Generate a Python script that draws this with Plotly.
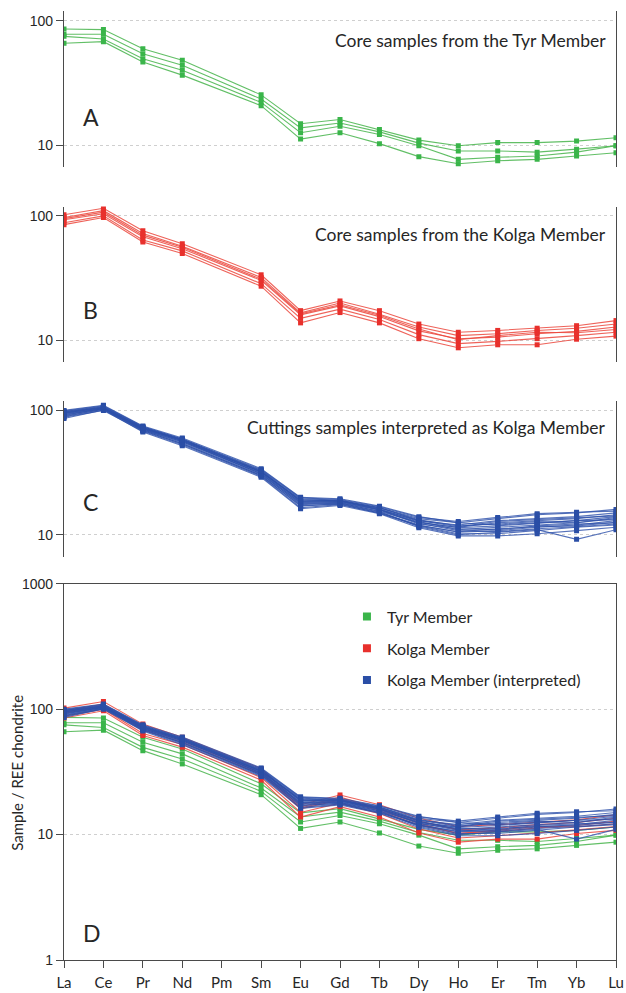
import plotly.graph_objects as go

# Rare earth elements in atomic-number order (Pm not analysed)
ELEMENTS = ["La", "Ce", "Pr", "Nd", "Pm", "Sm", "Eu", "Gd", "Tb", "Dy", "Ho", "Er", "Tm", "Yb", "Lu"]

# Chondrite-normalised REE, core samples from the Tyr Member
TYR = [
    [86, 85, 59.6, 48.2, None, 25.4, 14.9, 16.1, 13.4, 11.0, 9.9, 10.5, 10.5, 10.8, 11.5],
    [78, 78, 54.4, 44.0, None, 23.5, 13.8, 15.1, 12.8, 10.4, 9.0, 9.0, 8.8, 9.3, 9.9],
    [75, 71.5, 49.6, 40.1, None, 22.1, 12.6, 14.2, 12.2, 9.9, 7.7, 8.0, 8.2, 8.8, 9.9],
    [66, 68, 46.7, 36.6, None, 20.8, 11.2, 12.6, 10.3, 8.1, 7.1, 7.5, 7.7, 8.2, 8.7],
]

# Core samples from the Kolga Member
KOLGA = [
    [102, 115, 76, 59.7, None, 33.6, 17.3, 20.7, 17.3, 13.5, 11.6, 12.0, 12.5, 13.1, 14.4],
    [97, 110, 72, 57, None, 32.0, 16.6, 19.9, 16.2, 12.8, 10.9, 11.3, 12.0, 12.5, 13.5],
    [93, 104, 68, 54.5, None, 30.3, 16.0, 18.9, 15.5, 11.9, 10.3, 10.6, 11.3, 11.8, 12.8],
    [88, 100, 64, 52.3, None, 28.5, 15.0, 17.8, 14.7, 11.1, 9.4, 9.8, 10.3, 10.9, 11.6],
    [85, 97, 61.6, 49.8, None, 27.2, 13.8, 16.7, 13.8, 10.3, 8.7, 9.2, 9.2, 10.2, 10.8],
    [95, 107, 70, 56, None, 31.0, 16.3, 19.3, 15.9, 12.3, 10.1, 10.9, 11.6, 11.5, 12.2],
]

# Cuttings samples interpreted as Kolga Member
KOLGA_INTERP = [
    [98, 108, 74, 59, None, 33.0, 19.5, 19.0, 16.5, 13.5, 12.5, 13.5, 14.5, 15.0, 16.0],
    [95, 105, 72, 57, None, 32.0, 18.5, 18.5, 16.0, 13.0, 12.0, 13.0, 13.5, 14.0, 15.0],
    [92, 103, 70, 56, None, 31.0, 17.5, 18.0, 15.5, 12.5, 11.5, 12.5, 13.0, 13.5, 14.5],
    [100, 110, 75, 60, None, 34.0, 20.0, 19.5, 17.0, 14.0, 12.5, 12.0, 12.5, 13.0, 14.0],
    [96, 106, 73, 58, None, 32.5, 19.0, 18.8, 16.2, 12.8, 11.0, 11.5, 12.0, 12.5, 13.5],
    [90, 102, 69, 54, None, 30.0, 17.0, 17.8, 15.2, 12.0, 10.5, 10.8, 11.5, 12.0, 13.0],
    [94, 104, 71, 56, None, 31.5, 18.0, 18.2, 15.8, 12.2, 11.2, 11.0, 11.8, 12.2, 12.5],
    [88, 100, 68, 53, None, 29.5, 16.5, 17.5, 15.0, 11.8, 10.2, 10.2, 10.8, 11.5, 12.0],
    [97, 107, 72, 58, None, 32.0, 18.8, 18.6, 16.4, 13.2, 11.8, 12.2, 12.8, 12.5, 13.8],
    [93, 103, 70, 55, None, 30.5, 17.8, 18.0, 15.4, 11.6, 10.0, 10.5, 11.0, 9.2, 11.0],
    [99, 109, 74, 59, None, 33.5, 19.8, 19.2, 16.8, 13.8, 12.8, 13.8, 14.8, 15.2, 15.5],
    [86, 101, 67, 52, None, 29.0, 16.2, 17.2, 14.8, 11.4, 9.8, 9.8, 10.2, 10.8, 11.5],
    [91, 104, 71, 57, None, 31.0, 18.2, 18.4, 15.9, 12.6, 11.4, 11.8, 12.4, 13.0, 13.2],
    [95, 105, 73, 57, None, 32.0, 19.2, 18.8, 16.6, 13.0, 11.6, 12.8, 13.2, 13.8, 14.2],
    [89, 102, 69, 54, None, 30.0, 17.2, 17.6, 15.0, 11.9, 10.6, 11.2, 11.6, 11.8, 12.6],
    [97, 106, 72, 58, None, 32.8, 18.6, 18.9, 16.0, 12.4, 10.8, 10.6, 11.2, 11.6, 12.2],
]

GROUPS = [
    ("Tyr Member", TYR, "rgba(70,180,75,0.85)", "#3ab54a"),
    ("Kolga Member", KOLGA, "rgba(235,70,60,0.85)", "#e8302c"),
    ("Kolga Member (interpreted)", KOLGA_INTERP, "rgba(45,80,170,0.8)", "#2a4ea6"),
]

PANEL_TITLES = [
    "Core samples from the Tyr Member",
    "Core samples from the Kolga Member",
    "Cuttings samples interpreted as Kolga Member",
]
PANEL_LETTERS = ["A", "B", "C", "D"]

W, H = 626, 993
ML, MR, MT, MB = 64, 6, 2, 29
PW, PH = W - ML - MR, H - MT - MB

GILL = "Lato, 'Gill Sans', sans-serif"
ARIAL = "'Liberation Sans', Arial, sans-serif"
TEXT = "#262626"
AXIS = "#4a4a4a"


def px_x(px):
    return (px - ML) / PW


def px_y(py):
    return (H - MB - py) / PH


# pixel extents (top, bottom) of each panel
PANEL_PX = [(3.5, 161), (201, 358.5), (398, 555.5), (583, 964)]
SMALL_RANGE = [0.825, 2.075]

fig = go.Figure()


def add_group(rows, line_col, mark_col, axis_idx):
    suffix = "" if axis_idx == 1 else str(axis_idx)
    for row in rows:
        fig.add_trace(go.Scatter(
            x=ELEMENTS, y=row, mode="lines+markers", connectgaps=True,
            line=dict(color=line_col, width=1.1),
            marker=dict(symbol="square", size=5, color=mark_col, line=dict(width=0)),
            showlegend=False, hoverinfo="skip",
            xaxis="x" + suffix, yaxis="y" + suffix,
        ))


# single-group panels A-C
for i, (name, rows, lc, mc) in enumerate(GROUPS):
    add_group(rows, lc, mc, i + 1)

# combined panel D
for name, rows, lc, mc in GROUPS:
    add_group(rows, lc, mc, 4)

# legend entries (square symbols only)
for k, (name, rows, lc, mc) in enumerate(GROUPS):
    fig.add_trace(go.Scatter(
        x=[None], y=[None], mode="markers", name=name, legendgroup=str(k),
        marker=dict(symbol="square", size=8, color=mc),
        xaxis="x4", yaxis="y4",
    ))

layout = dict(
    width=W, height=H,
    margin=dict(l=ML, r=MR, t=MT, b=MB),
    paper_bgcolor="white", plot_bgcolor="white",
    showlegend=True,
    legend=dict(
        x=px_x(349), y=px_y(599), xanchor="left", yanchor="top",
        font=dict(family=GILL, size=16, color=TEXT),
        bgcolor="rgba(0,0,0,0)", tracegroupgap=8, traceorder="grouped",
    ),
    annotations=[],
)

for i in range(4):
    s = "" if i == 0 else str(i + 1)
    top, bot = PANEL_PX[i]
    dom = [px_y(bot), px_y(top)]
    last = i == 3
    layout["xaxis" + s] = dict(
        domain=[0, 1], anchor="y" + s, type="category",
        categoryorder="array", categoryarray=ELEMENTS, range=[0, 14],
        showgrid=False, zeroline=False,
        showline=last, mirror=last, linecolor=AXIS, linewidth=1.3,
        ticks="outside" if last else "", ticklen=7, tickcolor=AXIS,
        showticklabels=last, ticklabelstandoff=2,
        tickfont=dict(family=GILL, size=15, color=TEXT),
    )
    tv = [1, 10, 100, 1000] if last else [10, 100]
    layout["yaxis" + s] = dict(
        domain=dom, anchor="x" + s, type="log",
        range=[0, 3] if last else SMALL_RANGE,
        tickvals=tv, ticktext=[str(v) for v in tv],
        showline=True, mirror=True, linecolor=AXIS, linewidth=1.3,
        ticks="outside", ticklen=7, tickcolor=AXIS,
        tickfont=dict(family=ARIAL, size=14, color=TEXT),
        showgrid=True, gridcolor="#cfcfcf", griddash="dot", gridwidth=1,
        zeroline=False,
    )

# panel titles and letters
TITLE_Y = [33, 229, 425]
LETTER_Y = [110, 306, 500, 937]
for i in range(3):
    layout["annotations"].append(dict(
        x=px_x(612), y=px_y(TITLE_Y[i]), xref="paper", yref="paper",
        xanchor="right", yanchor="middle", showarrow=False,
        text=PANEL_TITLES[i], font=dict(family=GILL, size=17.5, color=TEXT),
    ))
for i in range(4):
    layout["annotations"].append(dict(
        x=px_x(81), y=px_y(LETTER_Y[i]), xref="paper", yref="paper",
        xanchor="left", yanchor="middle", showarrow=False,
        text=PANEL_LETTERS[i], font=dict(family=GILL, size=23, color=TEXT),
    ))
# y-axis title of panel D
layout["annotations"].append(dict(
    x=px_x(17), y=px_y(774), xref="paper", yref="paper",
    xanchor="center", yanchor="middle", showarrow=False, textangle=-90,
    text="Sample / REE chondrite", font=dict(family=GILL, size=15, color=TEXT),
))

fig.update_layout(**layout)
fig.write_html("out.html")
